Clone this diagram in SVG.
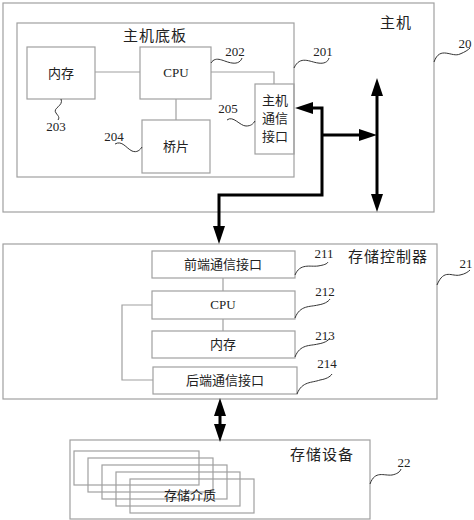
<svg xmlns="http://www.w3.org/2000/svg" width="474" height="520" viewBox="0 0 474 520">
<defs>
<style>
.box{fill:none;stroke:#a0a0a0;stroke-width:1.2}
.thin{fill:none;stroke:#a0a0a0;stroke-width:1.2}
.wave{fill:none;stroke:#333;stroke-width:1}
.bus{fill:none;stroke:#000;stroke-width:3}
.t{font-family:"Liberation Serif","Noto Sans CJK SC",serif;font-size:13px;fill:#222;text-anchor:middle}
.title{font-family:"Liberation Serif","Noto Sans CJK SC",serif;font-size:15px;fill:#222;text-anchor:middle;letter-spacing:1px}
.num{font-family:"Liberation Serif",serif;font-size:13px;fill:#222;text-anchor:middle}
</style>
<marker id="ah" markerUnits="userSpaceOnUse" markerWidth="20" markerHeight="12" viewBox="0 0 18 12" refX="8" refY="6" orient="auto-start-reverse">
<path d="M0,0 L18,6 L0,12 z" fill="#000"/>
</marker>
</defs>
<rect width="474" height="520" fill="#fff"/>

<g id="host">
<rect class="box" x="3" y="3" width="431" height="209"/>
<text class="title" x="396" y="28">主机</text>
<path class="wave" d="M434,62 C440,45 452,58 460,54 C465,52 468,50 470,48"/>
<text class="num" x="465" y="48">20</text>
</g>

<g id="motherboard">
<rect class="box" x="17" y="23" width="277" height="154"/>
<text class="title" x="155" y="41">主机底板</text>
<path class="wave" d="M294,68 C300,55 310,62 318,63 C324,64 328,62 329,58"/>
<text class="num" x="323" y="56">201</text>
</g>

<g id="host-memory">
<rect class="box" x="27" y="47" width="68" height="52"/>
<text class="t" x="61" y="78">内存</text>
<path class="wave" d="M61,99 C64,106 52,108 56,113 C58,116 60,117 58,120"/>
<text class="num" x="56" y="131">203</text>
</g>

<g id="host-cpu">
<rect class="box" x="140" y="47" width="71" height="52"/>
<text class="t" x="176" y="77">CPU</text>
<path class="wave" d="M211,63 C216,55 224,62 232,63 C238,64 241,61 242,58"/>
<text class="num" x="235" y="56">202</text>
</g>

<g id="bridge">
<rect class="box" x="142" y="120" width="68" height="53"/>
<text class="t" x="176" y="151">桥片</text>
<path class="wave" d="M115,144 C122,140 126,148 132,151 C137,153 140,150 142,147"/>
<text class="num" x="114" y="141">204</text>
</g>

<g id="host-if">
<rect class="box" x="255" y="84" width="39" height="70"/>
<text class="t" x="275" y="105">主机</text>
<text class="t" x="275" y="123">通信</text>
<text class="t" x="275" y="141">接口</text>
<path class="wave" d="M227,120 C233,115 240,126 246,126 C251,126 253,124 255,121"/>
<text class="num" x="228" y="113">205</text>
</g>

<g id="controller">
<rect class="box" x="3" y="244" width="434" height="155"/>
<text class="title" x="388" y="262">存储控制器</text>
<path class="wave" d="M437,285 C444,268 452,277 460,275 C465,274 468,272 470,270"/>
<text class="num" x="466" y="268">21</text>
</g>

<g id="frontend-if">
<rect class="box" x="152" y="251" width="143" height="27"/>
<text class="t" x="223" y="269">前端通信接口</text>
<path class="wave" d="M295,275 C300,263 310,267 318,266 C324,265 327,264 328,262"/>
<text class="num" x="324" y="258">211</text>
</g>

<g id="ctrl-cpu">
<rect class="box" x="152" y="291" width="143" height="28"/>
<text class="t" x="223" y="309">CPU</text>
<path class="wave" d="M295,318 C300,305 310,307 318,305 C324,304 328,302 330,299"/>
<text class="num" x="325" y="296">212</text>
</g>

<g id="ctrl-memory">
<rect class="box" x="152" y="331" width="143" height="27"/>
<text class="t" x="223" y="349">内存</text>
<path class="wave" d="M295,357 C300,344 310,346 318,344 C324,343 328,341 330,338"/>
<text class="num" x="325" y="340">213</text>
</g>

<g id="backend-if">
<rect class="box" x="153" y="367" width="144" height="27"/>
<text class="t" x="225" y="385">后端通信接口</text>
<path class="wave" d="M297,394 C302,381 312,383 320,380 C326,379 330,377 332,374"/>
<text class="num" x="327" y="368">214</text>
</g>

<g id="storage-device">
<rect class="box" x="70" y="440" width="300" height="79"/>
<text class="title" x="322" y="460">存储设备</text>
<path class="wave" d="M370,484 C375,470 384,476 392,475 C397,474 400,472 401,469"/>
<text class="num" x="404" y="467">22</text>
</g>

<g id="storage-media">
<rect class="thin" x="74" y="451" width="125" height="34"/>
<rect class="thin" x="88" y="458" width="125" height="34"/>
<rect class="thin" x="102" y="465" width="125" height="34"/>
<rect class="thin" x="116" y="472" width="124" height="34"/>
<rect class="thin" x="130" y="479" width="124" height="34"/>
<text class="t" x="190" y="500">存储介质</text>
</g>

<g id="connectors">
<path class="thin" d="M95,72 L140,72"/>
<path class="thin" d="M176,99 L176,120"/>
<path class="thin" d="M211,72 L274,72 L274,84"/>
<path class="thin" d="M223,278 L223,291"/>
<path class="thin" d="M223,319 L223,331"/>
<path class="thin" d="M152,305 L122,305 L122,380 L153,380"/>
<path class="bus" d="M305,108 L322,108 L322,195 L219,195 L219,234" marker-start="url(#ah)" marker-end="url(#ah)"/>
<path class="bus" d="M322,135 L367,135" marker-end="url(#ah)"/>
<path class="bus" d="M377,88 L377,202" marker-start="url(#ah)" marker-end="url(#ah)"/>
<path class="bus" d="M220,408 L220,432" marker-start="url(#ah)" marker-end="url(#ah)"/>
</g>
</svg>
